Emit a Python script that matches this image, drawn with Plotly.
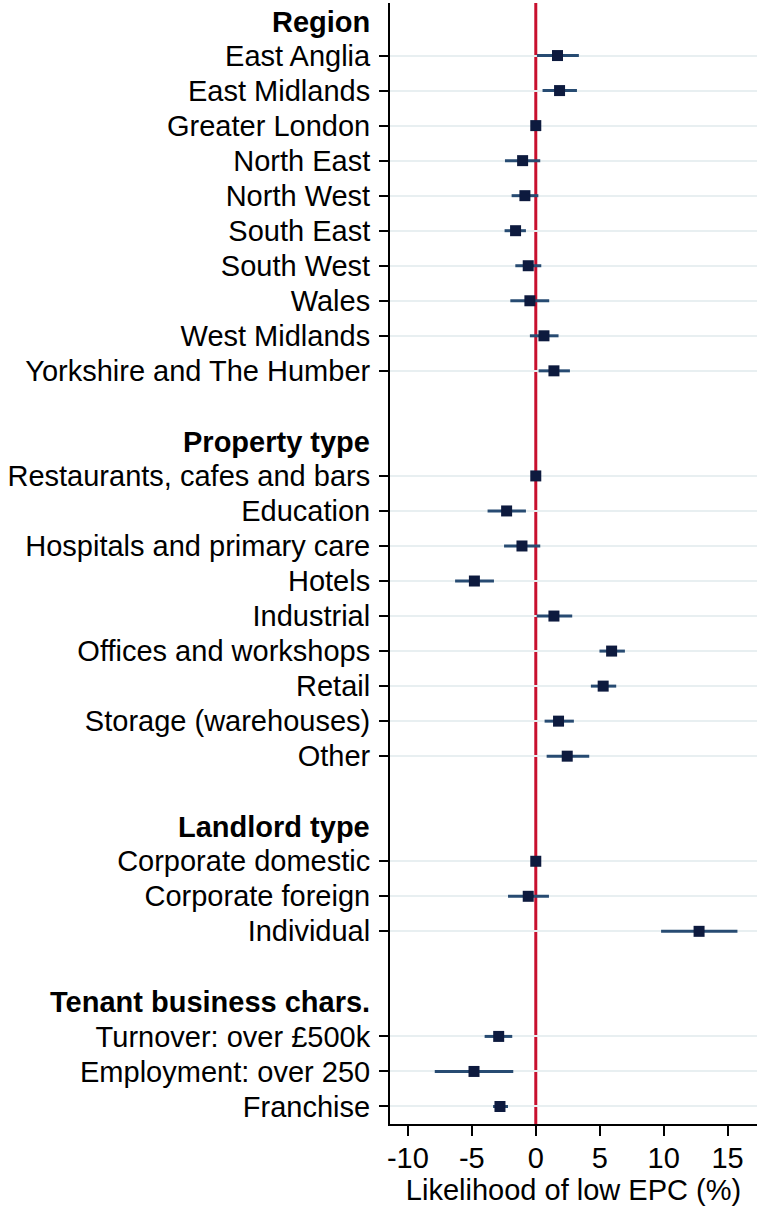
import plotly.graph_objects as go

# Coefficient estimates (percentage points) with 95% confidence intervals
region_labels = ["East Anglia", "East Midlands", "Greater London", "North East", "North West",
                 "South East", "South West", "Wales", "West Midlands", "Yorkshire and The Humber"]
region_est = [1.70, 1.86, 0.0, -1.03, -0.85, -1.58, -0.59, -0.46, 0.64, 1.42]
region_lo = [0.09, 0.53, 0.0, -2.41, -1.89, -2.44, -1.60, -1.99, -0.46, 0.22]
region_hi = [3.37, 3.22, 0.0, 0.35, 0.20, -0.77, 0.43, 1.05, 1.78, 2.67]

property_labels = ["Restaurants, cafes and bars", "Education", "Hospitals and primary care", "Hotels",
                   "Industrial", "Offices and workshops", "Retail", "Storage (warehouses)", "Other"]
property_est = [0.0, -2.28, -1.08, -4.80, 1.42, 5.93, 5.27, 1.78, 2.46]
property_lo = [0.0, -3.77, -2.48, -6.31, 0.07, 4.98, 4.31, 0.69, 0.85]
property_hi = [0.0, -0.77, 0.35, -3.27, 2.85, 6.97, 6.29, 2.98, 4.18]

landlord_labels = ["Corporate domestic", "Corporate foreign", "Individual"]
landlord_est = [0.0, -0.59, 12.77]
landlord_lo = [0.0, -2.17, 9.80]
landlord_hi = [0.0, 1.03, 15.77]

tenant_labels = ["Turnover: over £500k", "Employment: over 250", "Franchise"]
tenant_est = [-2.90, -4.83, -2.80]
tenant_lo = [-4.00, -7.90, -3.34]
tenant_hi = [-1.84, -1.76, -2.17]

group_names = ["Region", "Property type", "Landlord type", "Tenant business chars."]
groups = [
    (region_labels, region_est, region_lo, region_hi),
    (property_labels, property_est, property_lo, property_hi),
    (landlord_labels, landlord_est, landlord_lo, landlord_hi),
    (tenant_labels, tenant_est, tenant_lo, tenant_hi),
]

x_ticks = [-10, -5, 0, 5, 10, 15]

FONT = "Arial, 'Liberation Sans', sans-serif"
FS = 29

# Lay out rows: a header slot for each group, then its items, then a blank slot
ys, labels, est, err_plus, err_minus = [], [], [], [], []
header_pos = []
slot = 0
for gi, (labs, e, lo, hi) in enumerate(groups):
    header_pos.append(slot)
    slot += 1
    for lab, v, l, h in zip(labs, e, lo, hi):
        ys.append(slot)
        labels.append(lab)
        est.append(v)
        err_plus.append(h - v)
        err_minus.append(v - l)
        slot += 1
    if gi < len(groups) - 1:
        slot += 1
n_slots = slot

fig = go.Figure()
fig.add_trace(go.Scatter(
    x=est, y=ys, mode="markers",
    marker=dict(symbol="square", size=11, color="#0d1a3e"),
    error_x=dict(type="data", symmetric=False, array=err_plus, arrayminus=err_minus,
                 color="#274b72", thickness=3, width=0),
    showlegend=False, hoverinfo="x+y",
))

fig.add_shape(type="line", xref="x", yref="paper", x0=0, x1=0, y0=0, y1=1,
              line=dict(color="#c8102e", width=3), layer="between")

for name, pos in zip(group_names, header_pos):
    fig.add_annotation(x=0, xref="paper", y=pos, yref="y", text="<b>" + name + "</b>",
                       xanchor="right", yanchor="middle", xshift=-18, yshift=-1, showarrow=False,
                       font=dict(family=FONT, size=FS, color="black"))

fig.update_layout(
    width=758, height=1207,
    margin=dict(l=390, r=1, t=3, b=83),
    paper_bgcolor="white", plot_bgcolor="white",
    font=dict(family=FONT, size=FS, color="black"),
)
fig.update_xaxes(
    range=[-11.4, 17.3], tickvals=x_ticks, ticktext=[str(t) for t in x_ticks],
    showgrid=False, zeroline=False, showline=True, linecolor="black", linewidth=2,
    ticks="outside", ticklen=10, tickwidth=2, tickcolor="black", ticklabelstandoff=-3,
    title=dict(text="Likelihood of low EPC (%)", standoff=0, font=dict(size=FS)),
    tickfont=dict(size=FS),
)
fig.update_yaxes(
    range=[n_slots - 0.5, -0.5], tickvals=ys, ticktext=labels,
    showgrid=True, gridcolor="#e8eff1", gridwidth=2, zeroline=False,
    showline=True, linecolor="black", linewidth=2,
    ticks="outside", ticklen=9, tickwidth=2, tickcolor="black", ticklabelstandoff=3,
    tickfont=dict(size=FS),
)

fig.write_html("out.html")
